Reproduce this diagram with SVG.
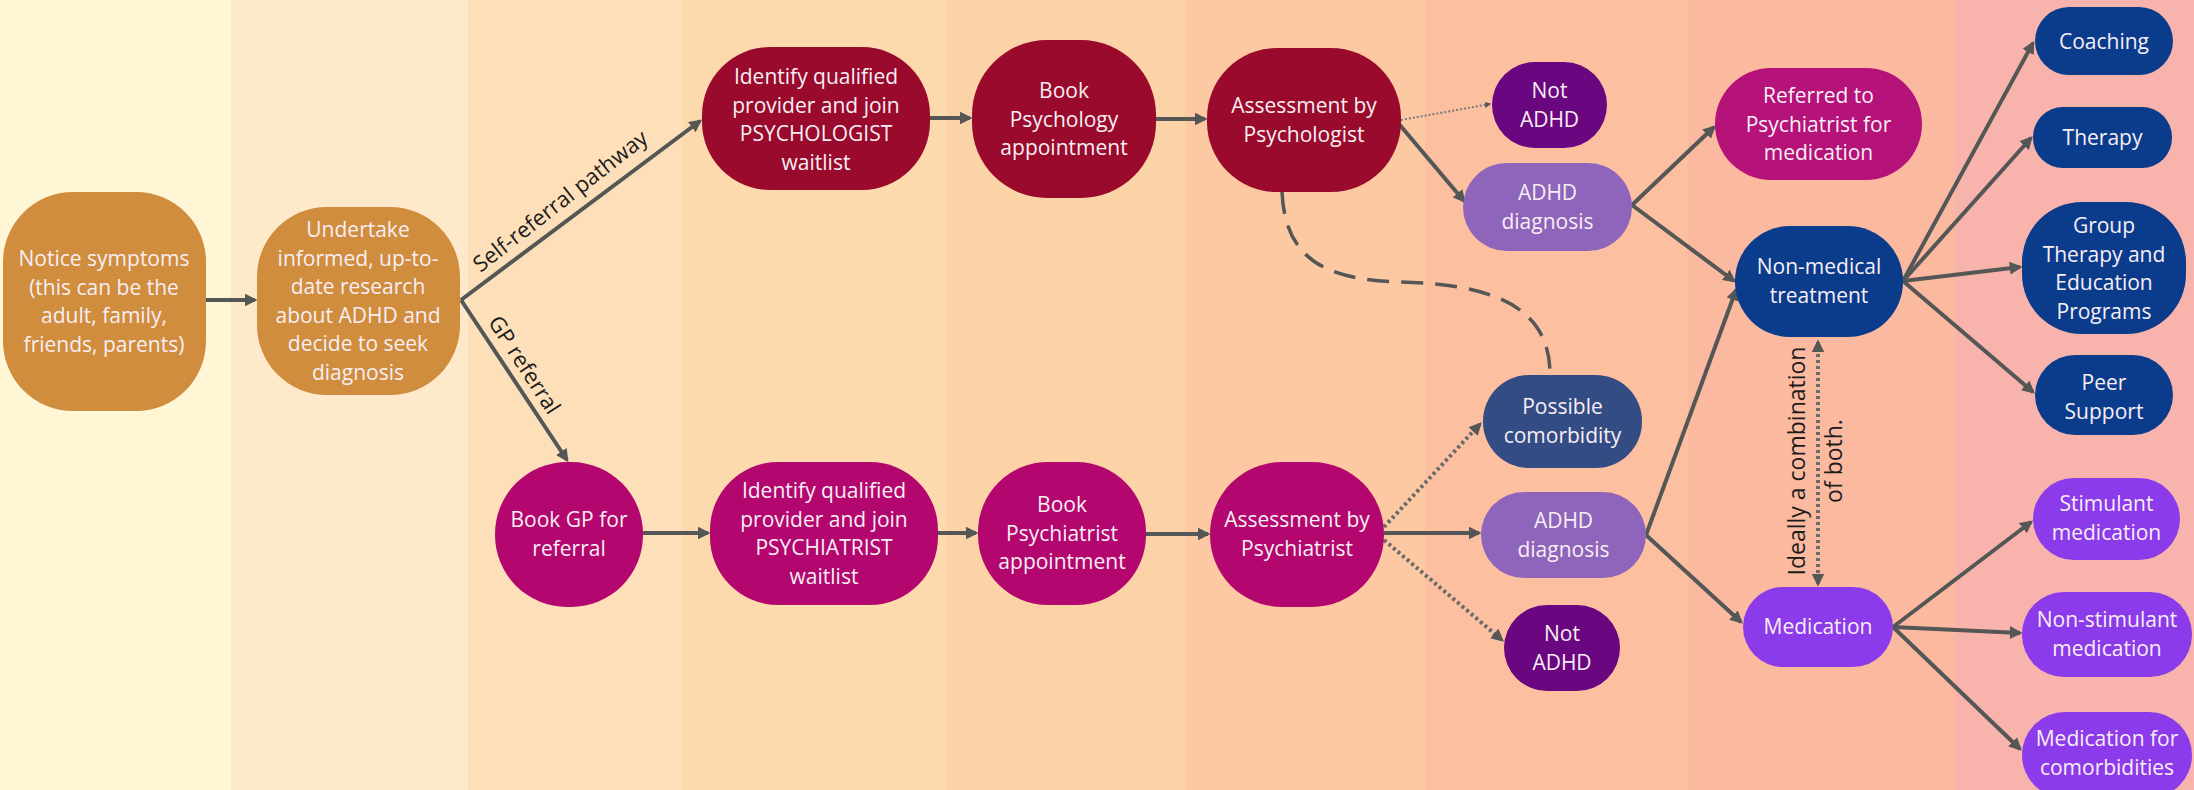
<svg xmlns="http://www.w3.org/2000/svg" width="2194" height="790" viewBox="0 0 2194 790">
<defs>
<marker id="ah" viewBox="0 0 10 10" refX="8" refY="5" markerWidth="3.2" markerHeight="3.2" orient="auto-start-reverse">
<path d="M0,0 L10,5 L0,10 z" fill="#555656"/>
</marker>
</defs>
<style>
.nt{font-family:"Open Sans","Noto Sans","Liberation Sans",sans-serif;font-size:21px;fill:#F7EEF4;text-anchor:middle}
.lb{font-family:"Open Sans","Noto Sans","Liberation Sans",sans-serif;fill:#1c1c1c;text-anchor:middle}
.e{fill:none;stroke:#555656;stroke-width:4}
.dot{fill:none;stroke:#6a6a6a;stroke-width:4;stroke-dasharray:3 3}
.thin{fill:none;stroke:#7a7a7a;stroke-width:2;stroke-dasharray:2 2}
.dash{fill:none;stroke:#555656;stroke-width:3.5;stroke-dasharray:22 12}
.or{fill:#D08D3E}.rd{fill:#990A2C}.mg{fill:#B3066E}.np{fill:#6A067F}.ad{fill:#8E65BA}
.cm{fill:#344C84}.rf{fill:#B5127A}.bl{fill:#0B3C8C}.md{fill:#8C3BEB}
</style>
<g id="background">
<rect x="0" y="0" width="231" height="790" fill="#FEF6D4"/>
<rect x="231" y="0" width="237" height="790" fill="#FEEACB"/>
<rect x="468" y="0" width="215" height="790" fill="#FDE0BA"/>
<rect x="683" y="0" width="264" height="790" fill="#FDDAAE"/>
<rect x="947" y="0" width="238" height="790" fill="#FCD3A6"/>
<rect x="1185" y="0" width="240" height="790" fill="#FCC9A2"/>
<rect x="1425" y="0" width="263" height="790" fill="#FCC0A0"/>
<rect x="1688" y="0" width="267" height="790" fill="#FBB9A0"/>
<rect x="1955" y="0" width="239" height="790" fill="#F8B4AC"/>
</g>
<g id="connectors">
<path class="e" d="M206,300 L255,300" marker-end="url(#ah)"/>
<path class="e" d="M461,300 L700,121" marker-end="url(#ah)"/>
<path class="e" d="M461,300 L567,460" marker-end="url(#ah)"/>
<path class="e" d="M930,118 L970,118" marker-end="url(#ah)"/>
<path class="e" d="M1156,119 L1205,119" marker-end="url(#ah)"/>
<path class="thin" d="M1401,120 L1490,104" marker-end="url(#ah)"/>
<path class="e" d="M1399,124 L1464,201" marker-end="url(#ah)"/>
<path class="dash" d="M1282,192 C1285,255 1320,280 1400,282 C1480,284 1550,300 1550,374"/>
<path class="e" d="M1632,205 L1714,127" marker-end="url(#ah)"/>
<path class="e" d="M1632,205 L1734,281" marker-end="url(#ah)"/>
<path class="e" d="M643,533 L708,533" marker-end="url(#ah)"/>
<path class="e" d="M938,533 L976,533" marker-end="url(#ah)"/>
<path class="e" d="M1146,534 L1208,534" marker-end="url(#ah)"/>
<path class="dot" d="M1384,527 L1480,424" marker-end="url(#ah)"/>
<path class="e" d="M1384,533 L1479,533" marker-end="url(#ah)"/>
<path class="dot" d="M1384,540 L1502,640" marker-end="url(#ah)"/>
<path class="e" d="M1646,535 L1736,290" marker-end="url(#ah)"/>
<path class="e" d="M1646,535 L1741,622" marker-end="url(#ah)"/>
<path class="dot" d="M1818,342 L1818,584" marker-start="url(#ah)" marker-end="url(#ah)"/>
<path class="e" d="M1903,281 L2033,43" marker-end="url(#ah)"/>
<path class="e" d="M1903,281 L2031,138" marker-end="url(#ah)"/>
<path class="e" d="M1903,281 L2020,267" marker-end="url(#ah)"/>
<path class="e" d="M1903,281 L2033,392" marker-end="url(#ah)"/>
<path class="e" d="M1893,627 L2031,522" marker-end="url(#ah)"/>
<path class="e" d="M1893,627 L2020,633" marker-end="url(#ah)"/>
<path class="e" d="M1893,627 L2020,749" marker-end="url(#ah)"/>
<text class="lb" font-size="22" transform="translate(565,207) rotate(-38)">Self-referral pathway</text>
<text class="lb" font-size="22" transform="translate(518,369) rotate(57)">GP referral</text>
<text class="lb" font-size="23" transform="translate(1805,461) rotate(-90)">Ideally a combination</text>
<text class="lb" font-size="23" transform="translate(1842,461) rotate(-90)">of both.</text>
</g>
<g id="n-notice"><rect class="or" x="3" y="192" width="203" height="219" rx="70"/>
<text class="nt" x="104" y="266">Notice symptoms<tspan x="104" dy="28.5">(this can be the</tspan><tspan x="104" dy="28.5">adult, family,</tspan><tspan x="104" dy="28.5">friends, parents)</tspan></text></g>
<g id="n-research"><rect class="or" x="257" y="207" width="203" height="188" rx="70"/>
<text class="nt" x="358" y="237">Undertake<tspan x="358" dy="28.5">informed, up-to-</tspan><tspan x="358" dy="28.5">date research</tspan><tspan x="358" dy="28.5">about ADHD and</tspan><tspan x="358" dy="28.5">decide to seek</tspan><tspan x="358" dy="28.5">diagnosis</tspan></text></g>
<g id="n-psychologist-waitlist"><rect class="rd" x="702" y="47" width="228" height="143" rx="68"/>
<text class="nt" x="816" y="84">Identify qualified<tspan x="816" dy="28.5">provider and join</tspan><tspan x="816" dy="28.5">PSYCHOLOGIST</tspan><tspan x="816" dy="28.5">waitlist</tspan></text></g>
<g id="n-book-psychology"><rect class="rd" x="972" y="40" width="184" height="158" rx="75"/>
<text class="nt" x="1064" y="98">Book<tspan x="1064" dy="28.5">Psychology</tspan><tspan x="1064" dy="28.5">appointment</tspan></text></g>
<g id="n-assess-psychologist"><rect class="rd" x="1207" y="48" width="194" height="144" rx="70"/>
<text class="nt" x="1304" y="113">Assessment by<tspan x="1304" dy="28.5">Psychologist</tspan></text></g>
<g id="n-not-adhd-1"><rect class="np" x="1492" y="62" width="115" height="86" rx="43"/>
<text class="nt" x="1549.5" y="98">Not<tspan x="1549.5" dy="28.5">ADHD</tspan></text></g>
<g id="n-adhd-diag-1"><rect class="ad" x="1463" y="163" width="169" height="88" rx="44"/>
<text class="nt" x="1547.5" y="200">ADHD<tspan x="1547.5" dy="28.5">diagnosis</tspan></text></g>
<g id="n-comorbidity"><rect class="cm" x="1483" y="375" width="159" height="93" rx="46"/>
<text class="nt" x="1562.5" y="414">Possible<tspan x="1562.5" dy="28.5">comorbidity</tspan></text></g>
<g id="n-book-gp"><rect class="mg" x="495" y="462" width="148" height="145" rx="72"/>
<text class="nt" x="569" y="527">Book GP for<tspan x="569" dy="28.5">referral</tspan></text></g>
<g id="n-psychiatrist-waitlist"><rect class="mg" x="710" y="462" width="228" height="143" rx="68"/>
<text class="nt" x="824" y="498">Identify qualified<tspan x="824" dy="28.5">provider and join</tspan><tspan x="824" dy="28.5">PSYCHIATRIST</tspan><tspan x="824" dy="28.5">waitlist</tspan></text></g>
<g id="n-book-psychiatrist"><rect class="mg" x="978" y="462" width="168" height="143" rx="70"/>
<text class="nt" x="1062" y="512">Book<tspan x="1062" dy="28.5">Psychiatrist</tspan><tspan x="1062" dy="28.5">appointment</tspan></text></g>
<g id="n-assess-psychiatrist"><rect class="mg" x="1210" y="462" width="174" height="145" rx="72"/>
<text class="nt" x="1297" y="527">Assessment by<tspan x="1297" dy="28.5">Psychiatrist</tspan></text></g>
<g id="n-adhd-diag-2"><rect class="ad" x="1481" y="492" width="165" height="86" rx="43"/>
<text class="nt" x="1563.5" y="528">ADHD<tspan x="1563.5" dy="28.5">diagnosis</tspan></text></g>
<g id="n-not-adhd-2"><rect class="np" x="1504" y="605" width="116" height="86" rx="43"/>
<text class="nt" x="1562" y="641">Not<tspan x="1562" dy="28.5">ADHD</tspan></text></g>
<g id="n-referred"><rect class="rf" x="1715" y="68" width="207" height="112" rx="56"/>
<text class="nt" x="1818.5" y="103">Referred to<tspan x="1818.5" dy="28.5">Psychiatrist for</tspan><tspan x="1818.5" dy="28.5">medication</tspan></text></g>
<g id="n-non-medical"><rect class="bl" x="1735" y="226" width="168" height="111" rx="55"/>
<text class="nt" x="1819" y="274">Non-medical<tspan x="1819" dy="28.5">treatment</tspan></text></g>
<g id="n-medication"><rect class="md" x="1743" y="587" width="150" height="80" rx="40"/>
<text class="nt" x="1818" y="634">Medication</text></g>
<g id="n-coaching"><rect class="bl" x="2035" y="7" width="138" height="68" rx="34"/>
<text class="nt" x="2104" y="49">Coaching</text></g>
<g id="n-therapy"><rect class="bl" x="2033" y="107" width="139" height="61" rx="30"/>
<text class="nt" x="2102.5" y="145">Therapy</text></g>
<g id="n-group"><rect class="bl" x="2022" y="202" width="164" height="132" rx="60"/>
<text class="nt" x="2104" y="233">Group<tspan x="2104" dy="28.5">Therapy and</tspan><tspan x="2104" dy="28.5">Education</tspan><tspan x="2104" dy="28.5">Programs</tspan></text></g>
<g id="n-peer"><rect class="bl" x="2035" y="355" width="138" height="80" rx="40"/>
<text class="nt" x="2104" y="390">Peer<tspan x="2104" dy="28.5">Support</tspan></text></g>
<g id="n-stimulant"><rect class="md" x="2033" y="478" width="147" height="82" rx="41"/>
<text class="nt" x="2106.5" y="511">Stimulant<tspan x="2106.5" dy="28.5">medication</tspan></text></g>
<g id="n-non-stimulant"><rect class="md" x="2022" y="592" width="170" height="85" rx="42"/>
<text class="nt" x="2107" y="627">Non-stimulant<tspan x="2107" dy="28.5">medication</tspan></text></g>
<g id="n-med-comorbidities"><rect class="md" x="2022" y="712" width="170" height="86" rx="43"/>
<text class="nt" x="2107" y="746">Medication for<tspan x="2107" dy="28.5">comorbidities</tspan></text></g>
</svg>
